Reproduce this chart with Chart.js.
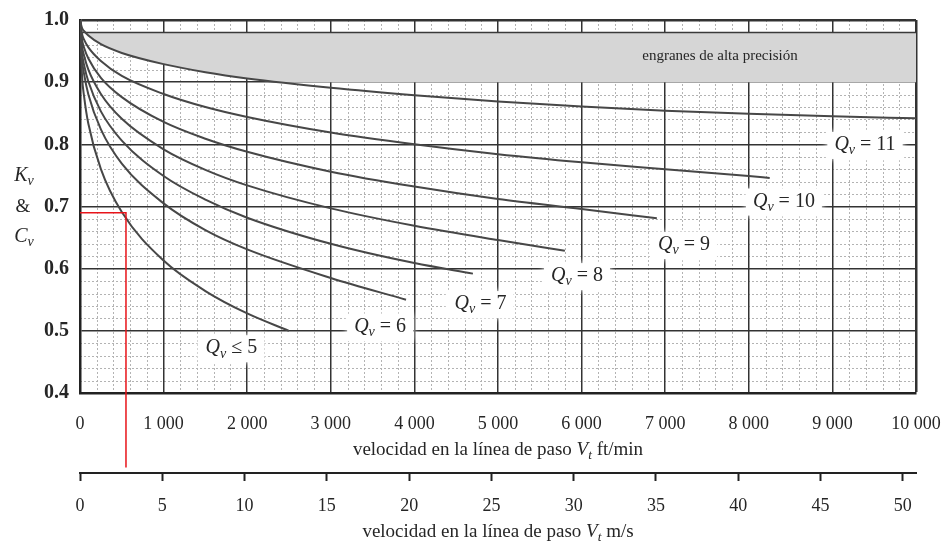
<!DOCTYPE html>
<html>
<head>
<meta charset="utf-8">
<script src="https://cdn.jsdelivr.net/npm/chart.js@4.4.1/dist/chart.umd.min.js"></script>
<style>
  html, body { margin: 0; padding: 0; background: #fff; }
  canvas { display: block; }
</style>
</head>
<body>
<canvas id="kvChart" width="947" height="543"></canvas>
<script>
// tick labels
const ftTicks = [0, 1000, 2000, 3000, 4000, 5000, 6000, 7000, 8000, 9000, 10000];
const mpsTicks = [0, 5, 10, 15, 20, 25, 30, 35, 40, 45, 50];
const kTicks = [0.4, 0.5, 0.6, 0.7, 0.8, 0.9, 1.0];
const mpsMax = 50.8; // 10 000 ft/min

// curves (V in ft/min, Kv)
const qv5V = [0, 25, 50, 100, 250, 500, 1000, 1500, 2000, 2500];
const qv5K = [1.0, 0.909, 0.876, 0.833, 0.760, 0.691, 0.613, 0.564, 0.528, 0.5];
const qv6V = [0, 25, 50, 100, 250, 500, 1000, 1500, 2000, 3000, 3900];
const qv6K = [1.0, 0.936, 0.912, 0.880, 0.824, 0.769, 0.705, 0.662, 0.631, 0.585, 0.55];
const qv7V = [0, 25, 50, 100, 250, 500, 1000, 1500, 2000, 3000, 4000, 4700];
const qv7K = [1.0, 0.947, 0.927, 0.901, 0.853, 0.806, 0.749, 0.711, 0.682, 0.640, 0.609, 0.592];
const qv8V = [0, 25, 50, 100, 250, 500, 1000, 1500, 2000, 3000, 4000, 5000, 5800];
const qv8K = [1.0, 0.958, 0.942, 0.920, 0.881, 0.841, 0.792, 0.759, 0.734, 0.697, 0.669, 0.646, 0.629];
const qv9V = [0, 25, 50, 100, 250, 500, 1000, 1500, 2000, 3000, 4000, 5000, 6000, 6900];
const qv9K = [1.0, 0.968, 0.955, 0.938, 0.907, 0.876, 0.836, 0.809, 0.788, 0.756, 0.732, 0.712, 0.696, 0.681];
const qv10V = [0, 25, 50, 100, 250, 500, 1000, 1500, 2000, 3000, 4000, 5000, 6000, 7000, 8000, 8250];
const qv10K = [1.0, 0.977, 0.968, 0.956, 0.934, 0.910, 0.881, 0.860, 0.844, 0.819, 0.800, 0.784, 0.771, 0.760, 0.749, 0.746];
const qv11V = [0, 25, 50, 100, 250, 500, 1000, 1500, 2000, 3000, 4000, 5000, 6000, 7000, 8000, 9000, 10000];
const qv11K = [1.0, 0.987, 0.982, 0.975, 0.961, 0.947, 0.929, 0.916, 0.906, 0.891, 0.879, 0.869, 0.861, 0.854, 0.849, 0.845, 0.842];

// shaded "alta precision" band
const bandV = [50, 100, 250, 500, 1000, 1500, 2000, 2400, 10000];
const bandLow = [0.98, 0.975, 0.961, 0.947, 0.929, 0.916, 0.906, 0.9, 0.9];
const bandTopV = [0, 10000];
const bandTopK = [0.98, 0.98];

// red reading example
const guideV = [0, 550, 550];
const guideK = [0.69, 0.69, 0.28];

// curve labels
const qvNames = ['≤ 5', '= 6', '= 7', '= 8', '= 9', '= 10', '= 11'];
const qvLabelV = [1810, 3590, 4790, 5945, 7225, 8420, 9390];
const qvLabelK = [0.472, 0.506, 0.543, 0.588, 0.638, 0.708, 0.799];

const FONT = '"Liberation Serif", "Times New Roman", serif';
const INK = '#262626';

const pts = (xs, ys) => xs.map((x, i) => ({ x: x, y: ys[i] }));

function richWidth(ctx, parts, size) {
  let w = 0;
  parts.forEach(p => {
    ctx.font = (p.italic ? 'italic ' : '') + (p.sub ? size * 0.7 : size) + 'px ' + FONT;
    w += ctx.measureText(p.t).width;
  });
  return w;
}

function drawRich(ctx, parts, cx, cy, size) {
  let x = cx - richWidth(ctx, parts, size) / 2;
  ctx.textAlign = 'left';
  ctx.textBaseline = 'middle';
  ctx.fillStyle = INK;
  parts.forEach(p => {
    ctx.font = (p.italic ? 'italic ' : '') + (p.sub ? size * 0.7 : size) + 'px ' + FONT;
    ctx.fillText(p.t, x, cy + (p.sub ? size * 0.28 : 0));
    x += ctx.measureText(p.t).width;
  });
}

const qvParts = name => [{ t: 'Q', italic: true }, { t: 'v', italic: true, sub: true }, { t: ' ' + name }];

const minorGrid = {
  id: 'minorGrid',
  beforeDraw(chart) {
    const { ctx, chartArea: a, scales: { x, y } } = chart;
    ctx.save();
    ctx.strokeStyle = '#b3b3b3';
    ctx.lineWidth = 1;
    ctx.setLineDash([2, 2]);
    ctx.beginPath();
    for (let v = 200; v < 10000; v += 200) {
      if (v % 1000 === 0) continue;
      const px = Math.round(x.getPixelForValue(v)) + 0.5;
      ctx.moveTo(px, a.top);
      ctx.lineTo(px, a.bottom);
    }
    for (let k = 42; k < 100; k += 2) {
      if (k % 10 === 0) continue;
      const py = Math.round(y.getPixelForValue(k / 100)) + 0.5;
      ctx.moveTo(a.left, py);
      ctx.lineTo(a.right, py);
    }
    ctx.stroke();
    ctx.restore();
  }
};

const curveLabels = {
  id: 'curveLabels',
  afterDatasetsDraw(chart) {
    const { ctx, scales: { x, y } } = chart;
    const size = 20;
    ctx.save();
    qvNames.forEach((name, i) => {
      const parts = qvParts(name);
      const cx = x.getPixelForValue(qvLabelV[i]);
      const cy = y.getPixelForValue(qvLabelK[i]);
      const w = richWidth(ctx, parts, size);
      ctx.fillStyle = '#fff';
      ctx.shadowColor = '#fff';
      ctx.shadowBlur = 6;
      ctx.fillRect(cx - w / 2 - 7, cy - 13, w + 14, 27);
      ctx.shadowBlur = 0;
      drawRich(ctx, parts, cx, cy, size);
    });
    ctx.font = '15px ' + FONT;
    ctx.fillStyle = INK;
    ctx.textAlign = 'center';
    ctx.textBaseline = 'middle';
    ctx.fillText('engranes de alta precisión', x.getPixelForValue(7655), y.getPixelForValue(0.942));
    ctx.restore();
  }
};

const axisTitles = {
  id: 'axisTitles',
  afterDraw(chart) {
    const { ctx, chartArea: a, scales: { x, x2, y } } = chart;
    const mid = (a.left + a.right) / 2;
    ctx.save();
    drawRich(ctx, [{ t: 'velocidad en la línea de paso ' }, { t: 'V', italic: true }, { t: 't', italic: true, sub: true }, { t: ' ft/min' }], mid, x.bottom - 23, 19);
    drawRich(ctx, [{ t: 'velocidad en la línea de paso ' }, { t: 'V', italic: true }, { t: 't', italic: true, sub: true }, { t: ' m/s' }], mid, x2.bottom - 11, 19);
    const y7 = y.getPixelForValue(0.7);
    drawRich(ctx, [{ t: 'K', italic: true }, { t: 'v', italic: true, sub: true }], y.left + 24, y7 - 31, 20);
    drawRich(ctx, [{ t: '&' }], y.left + 23, y7 + 1, 19);
    drawRich(ctx, [{ t: 'C', italic: true }, { t: 'v', italic: true, sub: true }], y.left + 24, y7 + 30, 20);
    ctx.restore();
  }
};

const curves = [[qv5V, qv5K], [qv6V, qv6K], [qv7V, qv7K], [qv8V, qv8K], [qv9V, qv9K], [qv10V, qv10K], [qv11V, qv11K]];

const datasets = [{
  label: 'guide',
  data: pts(guideV, guideK),
  borderColor: '#e8141a',
  borderWidth: 1.5,
  pointRadius: 0,
  clip: false
}];
curves.forEach(([v, k], i) => {
  datasets.push({
    label: 'Qv ' + qvNames[i],
    data: pts(v, k),
    borderColor: '#474747',
    borderWidth: 2,
    pointRadius: 0,
    cubicInterpolationMode: 'monotone'
  });
});
datasets.push({
  label: 'band top',
  data: pts(bandTopV, bandTopK),
  borderColor: '#3a3a3a',
  borderWidth: 1.5,
  pointRadius: 0
});
datasets.push({
  label: 'band',
  data: pts(bandV, bandLow),
  borderWidth: 0,
  borderColor: 'rgba(0,0,0,0)',
  backgroundColor: '#d6d6d6',
  fill: { value: 0.98 },
  pointRadius: 0,
  cubicInterpolationMode: 'monotone'
});

Chart.defaults.font.family = FONT;
Chart.defaults.color = INK;

// fixed axis boxes so the plot area lands where the figure has it
const fixH = h => s => { s.height = h; s.paddingLeft = 0; s.paddingRight = 0; };

new Chart(document.getElementById('kvChart').getContext('2d'), {
  type: 'line',
  data: { datasets: datasets },
  options: {
    responsive: false,
    animation: false,
    layout: { padding: { top: 20, right: 31, bottom: 0, left: 0 } },
    plugins: {
      legend: { display: false },
      tooltip: { enabled: false }
    },
    scales: {
      x: {
        type: 'linear',
        position: 'bottom',
        weight: 0,
        min: 0,
        max: 10000,
        afterBuildTicks: s => { s.ticks = ftTicks.map(v => ({ value: v })); },
        afterFit: fixH(80),
        grid: {
          color: '#333',
          lineWidth: c => (c.tick && c.tick.value === 10000 ? 2.5 : 1.5),
          drawTicks: false
        },
        border: { color: '#222', width: 2.5 },
        ticks: {
          padding: 20,
          font: { size: 18 },
          callback: v => (v >= 1000 ? Math.floor(v / 1000) + ' 000' : String(v))
        }
      },
      x2: {
        type: 'linear',
        position: 'bottom',
        weight: 1,
        min: 0,
        max: mpsMax,
        afterBuildTicks: s => { s.ticks = mpsTicks.map(v => ({ value: v })); },
        afterFit: fixH(70),
        grid: { drawOnChartArea: false, tickLength: 8, tickWidth: 2, tickColor: '#222' },
        border: { color: '#222', width: 2 },
        ticks: { padding: 14, font: { size: 18 } }
      },
      y: {
        type: 'linear',
        min: 0.4,
        max: 1.0,
        afterBuildTicks: s => { s.ticks = kTicks.map(v => ({ value: v })); },
        afterFit: s => { s.width = 80; s.paddingTop = 0; s.paddingBottom = 0; },
        grid: {
          color: '#333',
          lineWidth: c => (c.tick && c.tick.value === 1.0 ? 2.5 : 1.5),
          drawTicks: false
        },
        border: { color: '#222', width: 2.5 },
        ticks: {
          padding: 11,
          font: { size: 20, weight: 'bold' },
          callback: v => v.toFixed(1)
        }
      }
    }
  },
  plugins: [minorGrid, curveLabels, axisTitles]
});
</script>
</body>
</html>
